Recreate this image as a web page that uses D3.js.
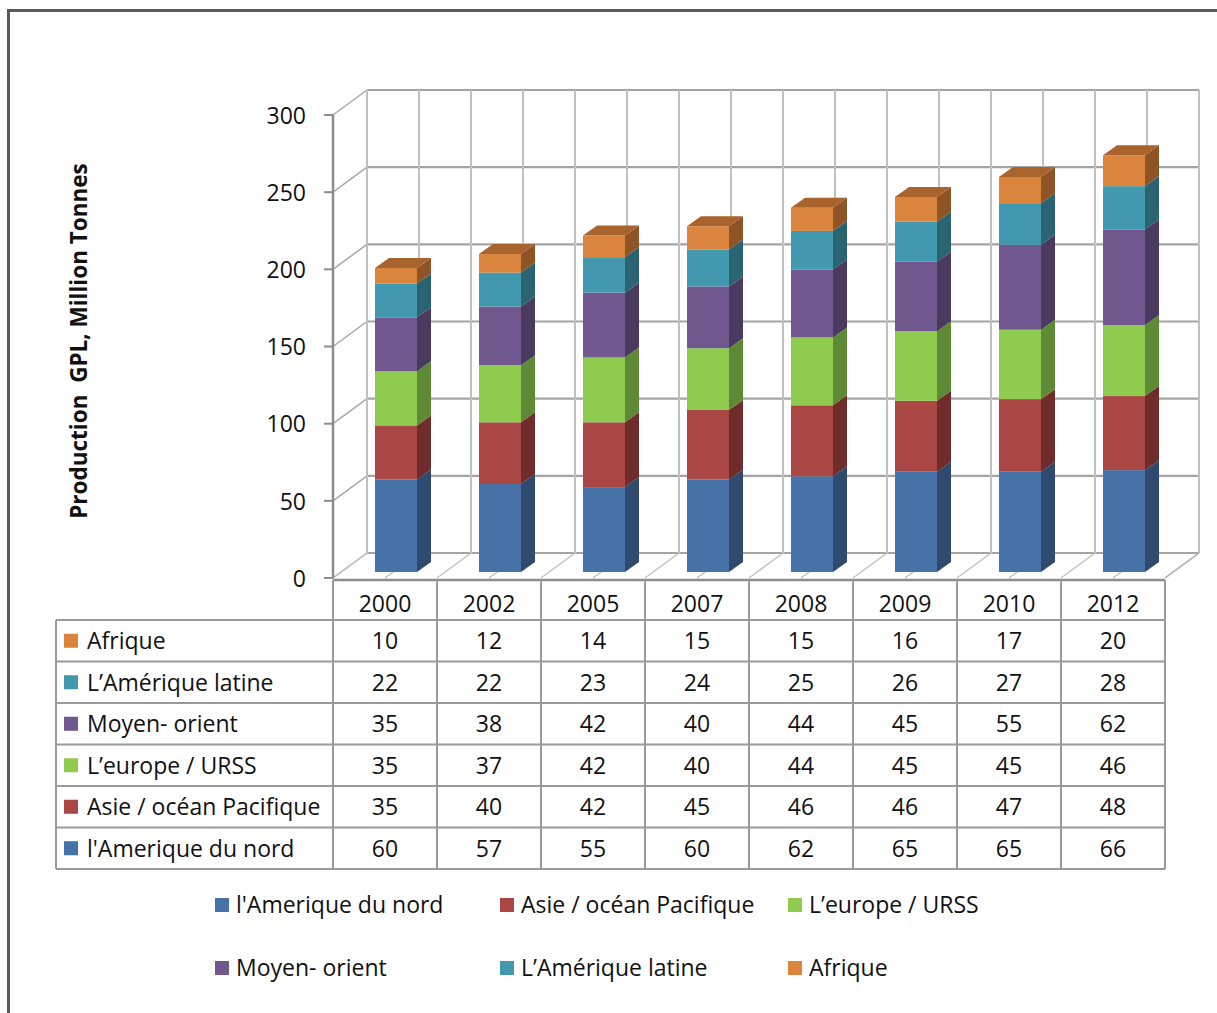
<!DOCTYPE html>
<html>
<head>
<meta charset="utf-8">
<script src="https://cdn.jsdelivr.net/npm/d3@7"></script>
<style>
  html, body { margin: 0; padding: 0; background: #fff; }
  svg { display: block; font-family: "Open Sans", Lato, sans-serif; }
</style>
</head>
<body>
<svg id="chart" width="1217" height="1013"></svg>
<script>
// LPG production by region, million tonnes
const categories = ['2000', '2002', '2005', '2007', '2008', '2009', '2010', '2012'];
const seriesNames = ["l'Amerique du nord", 'Asie / océan Pacifique', 'L’europe / URSS',
                     'Moyen- orient', 'L’Amérique latine', 'Afrique'];
const ameriqueNord = [60, 57, 55, 60, 62, 65, 65, 66];
const asiePacifique = [35, 40, 42, 45, 46, 46, 47, 48];
const europeUrss = [35, 37, 42, 40, 44, 45, 45, 46];
const moyenOrient = [35, 38, 42, 40, 44, 45, 55, 62];
const ameriqueLatine = [22, 22, 23, 24, 25, 26, 27, 28];
const afrique = [10, 12, 14, 15, 15, 16, 17, 20];
const yTicks = [0, 50, 100, 150, 200, 250, 300];
const yTitle = 'Production  GPL, Million Tonnes';

const seriesValues = [ameriqueNord, asiePacifique, europeUrss, moyenOrient, ameriqueLatine, afrique];
const colors = ['#4672A8', '#AA4643', '#8FCB4F', '#71588F', '#4198AF', '#DB843D'];
const sideColors = ['#2E4A6F', '#6F2C2B', '#5E8A35', '#4A3A5F', '#2A6473', '#8F5426'];
const topColors = ['#3A5F8C', '#8E3A38', '#76AD40', '#5E4978', '#35809A', '#A9632C'];

const FONT = 23;

const rows = categories.map((c, i) => {
  const r = { cat: c };
  seriesNames.forEach((s, k) => { r[s] = seriesValues[k][i]; });
  return r;
});
const stacked = d3.stack().keys(seriesNames)(rows);

const svg = d3.select('#chart');

// outer frame (top and left edges)
svg.append('path').attr('d', 'M8.5,1013 V10.5 H1217')
  .attr('fill', 'none').attr('stroke', '#5a5a5a').attr('stroke-width', 3);

// 3-D plot geometry
const x = d3.scaleBand().domain(categories).range([333, 1165]).padding(0);
const y = d3.scaleLinear().domain([0, 300]).range([578, 115]);
const DX = 34, DY = -25;          // full depth offset of the back wall
const FACE_DX = 11, FACE_DY = -6;  // bar front face inside the depth
const SIDE_DX = 14, SIDE_DY = -10; // bar depth
const BAR_W = 42;

const grid = svg.append('g').attr('fill', 'none');
const gridColor = '#c0c0c0';
const x0 = x.range()[0], x1 = x.range()[1];

// back wall horizontal grid lines + left wall diagonals
yTicks.forEach(t => {
  grid.append('line')
    .attr('x1', x0 + DX).attr('x2', x1 + DX)
    .attr('y1', y(t) + DY).attr('y2', y(t) + DY)
    .attr('stroke', '#a4a4a4').attr('stroke-width', 2.2);
  grid.append('line')
    .attr('x1', x0).attr('y1', y(t))
    .attr('x2', x0 + DX).attr('y2', y(t) + DY)
    .attr('stroke', '#a8a8a8').attr('stroke-width', 1.5);
});

// vertical grid lines on the back wall and diagonals on the floor (every half category)
const halfSteps = d3.range(0, categories.length * 2 + 1);
halfSteps.forEach(k => {
  const gx = x0 + k * x.bandwidth() / 2;
  grid.append('line')
    .attr('x1', gx + DX).attr('x2', gx + DX)
    .attr('y1', y(0) + DY).attr('y2', y(300) + DY)
    .attr('stroke', gridColor).attr('stroke-width', 2);
  grid.append('line')
    .attr('x1', gx).attr('y1', y(0))
    .attr('x2', gx + DX).attr('y2', y(0) + DY)
    .attr('stroke', gridColor).attr('stroke-width', 1.5);
});

// bars
const bars = svg.append('g');
categories.forEach((c, i) => {
  const left = x(c) + (x.bandwidth() - BAR_W) / 2 + FACE_DX;
  const right = left + BAR_W;
  stacked.forEach((layer, k) => {
    const yb = y(layer[i][0]) + FACE_DY;
    const yt = y(layer[i][1]) + FACE_DY;
    bars.append('rect')
      .attr('x', left).attr('y', yt).attr('width', BAR_W).attr('height', yb - yt)
      .attr('fill', colors[k]);
    bars.append('path')
      .attr('d', `M${right},${yb} L${right},${yt} L${right + SIDE_DX},${yt + SIDE_DY} L${right + SIDE_DX},${yb + SIDE_DY} Z`)
      .attr('fill', sideColors[k]);
    if (k === stacked.length - 1) {
      bars.append('path')
        .attr('d', `M${left},${yt} L${right},${yt} L${right + SIDE_DX},${yt + SIDE_DY} L${left + SIDE_DX},${yt + SIDE_DY} Z`)
        .attr('fill', topColors[k]);
    }
  });
});

// front value axis
const axisG = svg.append('g');
axisG.append('line').attr('x1', x0).attr('x2', x0)
  .attr('y1', y(0)).attr('y2', y(300))
  .attr('stroke', '#8c8c8c').attr('stroke-width', 2.5);
yTicks.forEach(t => {
  axisG.append('line').attr('x1', x0 - 9).attr('x2', x0)
    .attr('y1', y(t)).attr('y2', y(t))
    .attr('stroke', '#8c8c8c').attr('stroke-width', 2);
  axisG.append('text').attr('x', 306).attr('y', y(t))
    .attr('dy', '0.38em').attr('text-anchor', 'end')
    .attr('font-size', FONT).attr('fill', '#111').text(t);
});
// floor right edge
axisG.append('line').attr('x1', x1).attr('y1', y(0))
  .attr('x2', x1 + DX).attr('y2', y(0) + DY)
  .attr('stroke', '#b0b0b0').attr('stroke-width', 1.5);

// axis title
svg.append('text')
  .attr('transform', 'translate(87,341) rotate(-90)')
  .attr('text-anchor', 'middle')
  .attr('font-size', 22.5).attr('font-weight', 'bold').attr('fill', '#111')
  .style('white-space', 'pre')
  .text(yTitle);

// data table
const table = svg.append('g');
const tableTop = 580, headerBottom = 620, rowH = (869 - 620) / 6, tableLeft = 56;
const lineColor = '#9a9a9a';
const tableOrder = [5, 4, 3, 2, 1, 0];

// header row
table.append('line').attr('x1', x0).attr('x2', x1).attr('y1', tableTop).attr('y2', tableTop)
  .attr('stroke', '#8c8c8c').attr('stroke-width', 2.5);
categories.forEach(c => {
  table.append('text').attr('x', x(c) + x.bandwidth() / 2).attr('y', (tableTop + headerBottom) / 2 + 4)
    .attr('dy', '0.36em').attr('text-anchor', 'middle')
    .attr('font-size', FONT).attr('fill', '#111').text(c);
});
// horizontal rules
d3.range(0, 7).forEach(r => {
  const ry = headerBottom + r * rowH;
  table.append('line').attr('x1', tableLeft).attr('x2', x1).attr('y1', ry).attr('y2', ry)
    .attr('stroke', lineColor).attr('stroke-width', 2);
});
// vertical rules
table.append('line').attr('x1', tableLeft).attr('x2', tableLeft)
  .attr('y1', headerBottom).attr('y2', headerBottom + 6 * rowH)
  .attr('stroke', lineColor).attr('stroke-width', 2);
d3.range(0, categories.length + 1).forEach(k => {
  const vx = x0 + k * x.bandwidth();
  table.append('line').attr('x1', vx).attr('x2', vx)
    .attr('y1', tableTop).attr('y2', headerBottom + 6 * rowH)
    .attr('stroke', lineColor).attr('stroke-width', 2);
});
// rows
tableOrder.forEach((k, r) => {
  const cy = headerBottom + r * rowH + rowH / 2;
  table.append('rect').attr('x', 64).attr('y', cy - 7).attr('width', 14).attr('height', 14)
    .attr('fill', colors[k]);
  table.append('text').attr('x', 87).attr('y', cy).attr('dy', '0.36em')
    .attr('font-size', FONT).attr('fill', '#111').text(seriesNames[k]);
  categories.forEach((c, i) => {
    table.append('text').attr('x', x(c) + x.bandwidth() / 2).attr('y', cy)
      .attr('dy', '0.36em').attr('text-anchor', 'middle')
      .attr('font-size', FONT).attr('fill', '#111').text(seriesValues[k][i]);
  });
});

// legend
const legendPos = [[215, 905], [500, 905], [788, 905], [215, 968], [500, 968], [788, 968]];
const legend = svg.append('g');
seriesNames.forEach((s, k) => {
  const [lx, ly] = legendPos[k];
  legend.append('rect').attr('x', lx).attr('y', ly - 7).attr('width', 14).attr('height', 14)
    .attr('fill', colors[k]);
  legend.append('text').attr('x', lx + 21).attr('y', ly).attr('dy', '0.36em')
    .attr('font-size', FONT).attr('fill', '#111').text(s);
});
</script>
</body>
</html>
